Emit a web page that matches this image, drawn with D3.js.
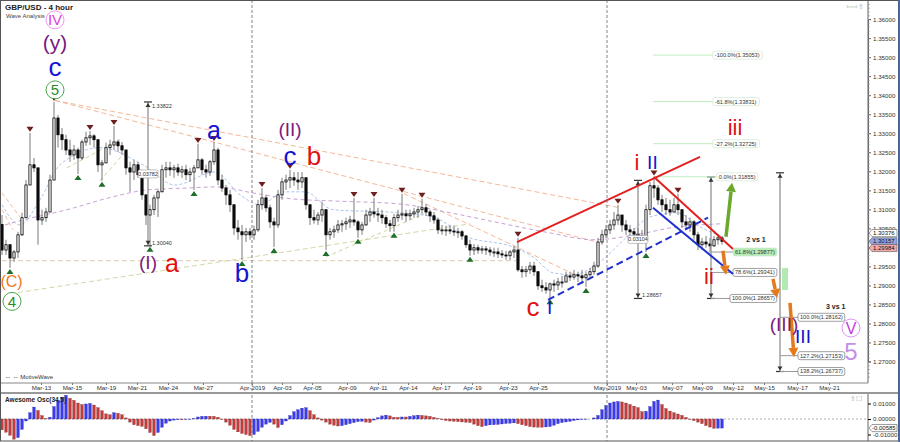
<!DOCTYPE html>
<html><head><meta charset="utf-8">
<script src="https://cdn.jsdelivr.net/npm/d3@7"></script>
<style>body{margin:0;background:#fff}svg{display:block;font-family:"Liberation Sans",Arial,sans-serif}</style>
</head><body><svg id="c" width="900" height="442"></svg>
<script>
// ---------- DATA ----------
const firstOpen = 1.3060;
const highs = [
1.3085,1.3020,1.3007,1.2993,1.3041,1.3091,1.3177,1.3301,1.3235,1.3209,
1.3099,1.3104,1.3191,1.3382,1.3348,1.3314,1.3296,1.3283,1.3269,1.3262,
1.3283,1.3304,1.3306,1.3298,1.3283,1.3230,1.3275,1.3283,1.3319,1.3283,
1.3277,1.3256,1.3225,1.3230,1.3225,1.3204,1.3138,1.3112,1.3138,1.3151,
1.3217,1.3225,1.3225,1.3217,1.3220,1.3214,1.3217,1.3209,1.3217,1.3272,
1.3235,1.3217,1.3230,1.3277,1.3262,1.3191,1.3164,1.3151,1.3112,1.3072,
1.3059,1.3051,1.3051,1.3057,1.3125,1.3156,1.3138,1.3112,1.3078,1.3151,
1.3183,1.3191,1.3204,1.3198,1.3198,1.3198,1.3183,1.3112,1.3099,1.3093,
1.3120,1.3099,1.3051,1.3057,1.3072,1.3072,1.3078,1.3083,1.3130,1.3072,
1.3067,1.3099,1.3104,1.3130,1.3104,1.3099,1.3085,1.3072,1.3088,1.3099,
1.3141,1.3099,1.3099,1.3104,1.3109,1.3128,1.3114,1.3099,1.3093,1.3078,
1.3059,1.3057,1.3059,1.3057,1.3051,1.3046,1.3033,1.3020,1.3009,1.3007,
1.3004,1.3004,1.3001,1.2999,1.2999,1.2993,1.2991,1.2993,1.3004,1.3025,
1.2951,1.2951,1.2962,1.2962,1.2936,1.2915,1.2909,1.2907,1.2915,1.2920,
1.2925,1.2936,1.2936,1.2941,1.2936,1.2941,1.2936,1.2946,1.2962,1.3025,
1.3046,1.3059,1.3072,1.3093,1.3112,1.3085,1.3072,1.3059,1.3051,1.3051,
1.3046,1.3112,1.3172,1.3186,1.3164,1.3138,1.3130,1.3125,1.3130,1.3141,
1.3099,1.3085,1.3078,1.3072,1.3041,1.3025,1.3030,1.3025,1.3030,1.3035,1.3030];
const lows = [
1.2980,1.2980,1.2946,1.2962,1.2972,1.3030,1.3112,1.3191,1.3198,1.3007,
1.3059,1.3067,1.3093,1.3230,1.3262,1.3256,1.3243,1.3225,1.3230,1.3193,
1.3230,1.3267,1.3269,1.3262,1.3198,1.3175,1.3225,1.3243,1.3256,1.3251,
1.3243,1.3191,1.3146,1.3177,1.3183,1.3125,1.3059,1.3004,1.3085,1.3080,
1.3146,1.3183,1.3188,1.3183,1.3188,1.3183,1.3177,1.3172,1.3151,1.3209,
1.3191,1.3183,1.3188,1.3217,1.3164,1.3146,1.3112,1.3093,1.3033,1.3020,
1.2967,1.3014,1.3020,1.3020,1.3041,1.3099,1.3093,1.3051,1.3001,1.3051,
1.3125,1.3151,1.3156,1.3162,1.3151,1.3156,1.3099,1.3059,1.3062,1.3059,
1.3067,1.2993,1.3020,1.3025,1.3038,1.3041,1.3046,1.3051,1.3057,1.3025,
1.3033,1.3057,1.3067,1.3078,1.3067,1.3062,1.3051,1.3041,1.3041,1.3067,
1.3072,1.3067,1.3072,1.3078,1.3078,1.3088,1.3083,1.3067,1.3062,1.3035,
1.3033,1.3030,1.3035,1.3030,1.3025,1.3020,1.2999,1.2978,1.2980,1.2983,
1.2983,1.2980,1.2978,1.2975,1.2972,1.2972,1.2967,1.2967,1.2972,1.2936,
1.2920,1.2922,1.2930,1.2925,1.2888,1.2883,1.2878,1.2866,1.2883,1.2888,
1.2894,1.2909,1.2912,1.2915,1.2909,1.2904,1.2896,1.2920,1.2928,1.2946,
1.3007,1.3025,1.3035,1.3046,1.3059,1.3041,1.3033,1.3025,1.3025,1.3020,
1.3014,1.2988,1.3085,1.3130,1.3112,1.3093,1.3085,1.3083,1.3093,1.3085,
1.3051,1.3046,1.3041,1.3020,1.2993,1.2993,1.2999,1.2986,1.3001,1.3007,1.3007];
const closes = [
1.2993,1.3007,1.2972,1.2988,1.3033,1.3078,1.3164,1.3217,1.3209,1.3072,
1.3078,1.3093,1.3177,1.3340,1.3296,1.3283,1.3256,1.3243,1.3256,1.3235,
1.3277,1.3288,1.3293,1.3283,1.3217,1.3222,1.3262,1.3269,1.3277,1.3267,
1.3256,1.3209,1.3198,1.3217,1.3191,1.3138,1.3085,1.3099,1.3130,1.3146,
1.3204,1.3209,1.3204,1.3209,1.3198,1.3204,1.3191,1.3198,1.3209,1.3230,
1.3204,1.3198,1.3225,1.3256,1.3177,1.3156,1.3138,1.3112,1.3051,1.3041,
1.3033,1.3041,1.3033,1.3046,1.3112,1.3130,1.3104,1.3067,1.3059,1.3138,
1.3172,1.3177,1.3183,1.3177,1.3172,1.3183,1.3112,1.3078,1.3072,1.3085,
1.3099,1.3033,1.3041,1.3046,1.3059,1.3062,1.3067,1.3072,1.3067,1.3046,
1.3059,1.3085,1.3093,1.3088,1.3085,1.3078,1.3062,1.3057,1.3078,1.3085,
1.3088,1.3083,1.3088,1.3093,1.3099,1.3104,1.3093,1.3083,1.3072,1.3046,
1.3046,1.3046,1.3043,1.3041,1.3041,1.3030,1.3007,1.2993,1.2999,1.2993,
1.2996,1.2993,1.2988,1.2988,1.2983,1.2980,1.2978,1.2988,1.2993,1.2941,
1.2936,1.2941,1.2951,1.2936,1.2899,1.2894,1.2888,1.2904,1.2901,1.2909,
1.2909,1.2925,1.2922,1.2928,1.2925,1.2920,1.2928,1.2936,1.2951,1.3014,
1.3033,1.3046,1.3059,1.3072,1.3085,1.3059,1.3046,1.3041,1.3035,1.3030,
1.3025,1.3099,1.3162,1.3156,1.3125,1.3112,1.3099,1.3093,1.3112,1.3099,
1.3067,1.3059,1.3067,1.3033,1.3007,1.3014,1.3009,1.3004,1.3020,1.3025,1.3016];
const aoValues = [
-0.0070,-0.0085,-0.0105,-0.0130,-0.0120,-0.0067,-0.0013,0.0040,0.0077,0.0055,
0.0022,0.0002,0.0011,0.0080,0.0120,0.0140,0.0153,0.0133,0.0120,0.0103,
0.0093,0.0097,0.0100,0.0090,0.0073,0.0053,0.0033,0.0027,0.0040,0.0037,
0.0027,0.0007,-0.0020,-0.0037,-0.0043,-0.0047,-0.0063,-0.0087,-0.0107,-0.0087,
-0.0053,-0.0027,-0.0013,-0.0007,-0.0005,-0.0005,-0.0003,-0.0002,0.0002,0.0013,
0.0017,0.0018,0.0018,0.0017,0.0011,-0.0003,-0.0020,-0.0040,-0.0067,-0.0083,
-0.0093,-0.0100,-0.0107,-0.0100,-0.0080,-0.0053,-0.0033,-0.0022,-0.0033,-0.0055,
-0.0037,-0.0013,0.0022,0.0047,0.0060,0.0070,0.0073,0.0053,0.0027,0.0007,
-0.0007,-0.0020,-0.0033,-0.0040,-0.0045,-0.0043,-0.0037,-0.0030,-0.0023,-0.0017,
-0.0015,-0.0020,-0.0022,-0.0007,0.0008,0.0020,0.0025,0.0020,0.0011,0.0010,
0.0013,0.0013,0.0017,0.0021,0.0025,0.0023,0.0020,0.0017,0.0010,0.0003,
-0.0005,-0.0010,-0.0013,-0.0015,-0.0017,-0.0019,-0.0021,-0.0023,-0.0033,-0.0043,
-0.0049,-0.0043,-0.0038,-0.0037,-0.0035,-0.0032,-0.0029,-0.0027,-0.0025,-0.0030,
-0.0037,-0.0043,-0.0049,-0.0052,-0.0053,-0.0053,-0.0051,-0.0049,-0.0040,-0.0030,
-0.0023,-0.0019,-0.0015,-0.0010,-0.0006,-0.0003,-0.0002,0.0000,0.0007,0.0023,
0.0060,0.0087,0.0103,0.0110,0.0113,0.0110,0.0103,0.0093,0.0083,0.0073,
0.0047,0.0050,0.0080,0.0113,0.0122,0.0093,0.0067,0.0051,0.0040,0.0032,
0.0023,0.0010,-0.0003,-0.0010,-0.0020,-0.0030,-0.0043,-0.0052,-0.0060,-0.0059,-0.00585];
const pivotHighs = [7,13,22,28,49,53,65,72,88,93,100,105,129,154,163,169];
const pivotLows = [2,19,25,37,48,60,68,81,89,98,117,137,146,161];
const dateTickIdx = [9.75,17.5,26,33.75,41.5,50.25,62.5,70,77.5,86.25,94,101.5,109.75,117.5,126.5,134,151.25,158.5,167.5,175,182.75,190.5,198.75,206.75];
const dateLabels = ["Mar-13","Mar-15","Mar-19","Mar-21","Mar-24","Mar-27","Apr-2019","Apr-03","Apr-05","Apr-09","Apr-11","Apr-14","Apr-17","Apr-19","Apr-23","Apr-25","May-2019","May-03","May-07","May-09","May-12","May-15","May-17","May-21"];
const monthStarts = [62.5,151.25];
const priceTickLabels = ["1.27000","1.27500","1.28000","1.28500","1.29000","1.29500","1.30000","1.30500","1.31000","1.31500","1.32000","1.32500","1.33000","1.33500","1.34000","1.34500","1.35000","1.35500","1.36000"];
const aoTickLabels = ["0.01000","0.00000","-0.01000"];
// indicator lines
const maSlowIdx = [0.75,5.25,16.25,27.75,36.25,46.25,53.75,62.75,72,82.75,99.5,112,124.5,137,147.75,159.5,167,180];
const maSlowVal = [1.3059,1.3072,1.3099,1.3133,1.3151,1.3156,1.3159,1.3143,1.3128,1.3122,1.3114,1.3091,1.3064,1.3038,1.3020,1.3035,1.3051,1.3062];
const maFastIdx = [0,4.5,9.5,14.5,24.5,35.25,43.25,53.25,59.5,64.5,70.75,75.75,82.75,99.5,107.75,116.25,127.75,132.75,137.75,142.75,149.5,156.25,162,168.75,174.5,180];
const maFastVal = [1.3112,1.3059,1.3125,1.3217,1.3262,1.3217,1.3164,1.3198,1.3138,1.3112,1.3146,1.3146,1.3099,1.3091,1.3080,1.3028,1.3001,1.2975,1.2933,1.2928,1.2962,1.3028,1.3080,1.3091,1.3054,1.3028];
// ---------- SETUP ----------
const svg = d3.select("#c");
const PR = 868;
const x = d3.scaleLinear().domain([0,216.5]).range([2,868]);
const y = d3.scaleLinear().domain([1.27,1.36]).range([361.5,19.1]);
const yo = d3.scaleLinear().domain([-0.01,0.01]).range([434.5,403.5]);
const bars = closes.map((c,i)=>({i,o:i===0?firstOpen:closes[i-1],h:highs[i],l:lows[i],c}));

svg.append("rect").attr("width",900).attr("height",442).attr("fill","#fff");
const defs = svg.append("defs");
defs.append("clipPath").attr("id","cm").append("rect").attr("x",0).attr("y",0).attr("width",PR).attr("height",382);
defs.append("clipPath").attr("id","co").append("rect").attr("x",0).attr("y",394).attr("width",PR).attr("height",46);

const main = svg.append("g").attr("clip-path","url(#cm)");
const osc = svg.append("g").attr("clip-path","url(#co)");

// month separators
monthStarts.forEach(m=>{
  svg.append("line").attr("x1",x(m)).attr("x2",x(m)).attr("y1",0).attr("y2",441)
   .attr("stroke","#777").attr("stroke-width",0.9).attr("stroke-dasharray","3,2");
});

// dashed trend / indicator lines
function seg(g,i1,p1,i2,p2,col,w,dash){
  g.append("line").attr("x1",x(i1)).attr("y1",y(p1)).attr("x2",x(i2)).attr("y2",y(p2))
   .attr("stroke",col).attr("stroke-width",w).attr("stroke-dasharray",dash||null);
}
seg(main,0,1.2965,128.5,1.2965,"#dccdb0",1,"5,3");
seg(main,2,1.2878,117,1.3062,"#d2d8a8",1,"5,3");
seg(main,81,1.2975,105.5,1.3088,"#c8d8a0",1,"4,3");
seg(main,16.25,1.3209,29.5,1.3283,"#c8d8a0",1,"4,3");
seg(main,24.5,1.3175,31.25,1.3256,"#c8d8a0",1,"4,3");
seg(main,13.25,1.3386,154.5,1.3104,"#f4b899",1,"5,3");
seg(main,13.25,1.3386,148.75,1.3014,"#f4b899",1,"5,3");
seg(main,100.5,1.3141,144.5,1.2922,"#f4b899",1,"5,3");
seg(main,0,1.3143,4.5,1.3080,"#f4b899",1,"4,3");
seg(main,0,1.3099,2.75,1.3046,"#f4b899",1,"4,3");
const lineGen = (xs,vs)=>d3.line().curve(d3.curveMonotoneX).x((d,k)=>x(xs[k])).y((d,k)=>y(vs[k]))(vs);
main.append("path").attr("d",lineGen(maSlowIdx,maSlowVal)).attr("fill","none").attr("stroke","#c9a0d8").attr("stroke-width",1).attr("stroke-dasharray","4,3");
main.append("path").attr("d",lineGen(maFastIdx,maFastVal)).attr("fill","none").attr("stroke","#9fbde8").attr("stroke-width",0.9).attr("stroke-dasharray","3,2");

// candles
const cg = main.append("g");
cg.selectAll("line.w").data(bars).join("line").attr("class","w")
  .attr("x1",d=>x(d.i)).attr("x2",d=>x(d.i)).attr("y1",d=>y(d.h)).attr("y2",d=>y(d.l))
  .attr("stroke","#7a7a7a").attr("stroke-width",1);
cg.selectAll("rect").data(bars).join("rect")
  .attr("x",d=>x(d.i)-1.1).attr("width",2.2)
  .attr("y",d=>y(Math.max(d.o,d.c))).attr("height",d=>Math.max(1,Math.abs(y(d.o)-y(d.c))))
  .attr("fill",d=>d.c>=d.o?"#fff":"#111").attr("stroke","#000").attr("stroke-width",0.8);

// pivot markers
main.selectAll("path.ph").data(pivotHighs).join("path").attr("class","ph")
  .attr("d",i=>{const cx=x(i),cy=y(highs[i])-1;return `M${cx-3.5},${cy-5}L${cx+3.5},${cy-5}L${cx},${cy}Z`;})
  .attr("fill","#6e1f1f");
main.selectAll("path.pl").data(pivotLows).join("path").attr("class","pl")
  .attr("d",i=>{const cx=x(i),cy=y(lows[i])+1;return `M${cx-3.5},${cy+5}L${cx+3.5},${cy+5}L${cx},${cy}Z`;})
  .attr("fill","#1f6e2a");

// measurement lines
function measure(i,pTop,pBot,opts){
  const g=main.append("g"), cx=x(i), yt=y(pTop), yb=y(pBot);
  g.append("line").attr("x1",cx).attr("x2",cx).attr("y1",yt).attr("y2",yb).attr("stroke",opts.col||"#888").attr("stroke-width",1.2);
  [[yt,1],[yb,-1]].forEach(([yy,s])=>{
    g.append("line").attr("x1",cx-4).attr("x2",cx+4).attr("y1",yy).attr("y2",yy).attr("stroke","#333").attr("stroke-width",1.2);
    g.append("path").attr("d",`M${cx-2.5},${yy+s*5}L${cx+2.5},${yy+s*5}L${cx},${yy+s*1}Z`).attr("fill","#333");
  });
  if(opts.topLbl) g.append("text").attr("x",cx+4).attr("y",yt+4).attr("dy","0.35em").text(opts.topLbl).attr("font-size",5.5).attr("fill","#333");
  if(opts.botLbl) g.append("text").attr("x",cx+4).attr("y",yb-3).attr("dy","0.35em").text(opts.botLbl).attr("font-size",5.5).attr("fill","#333");
  if(opts.mid){
    const my=(yt+yb)/2;
    g.append("rect").attr("x",cx-10).attr("y",my-4).attr("width",20).attr("height",8).attr("rx",1.5).attr("fill","#fff").attr("stroke","#999").attr("stroke-width",0.6);
    g.append("text").attr("x",cx).attr("y",my).attr("dy","0.35em").attr("text-anchor","middle").text(opts.mid).attr("font-size",5.5).attr("fill","#333");
  }
}
measure(36.5,1.33822,1.30040,{topLbl:"1.33822",botLbl:"1.30040",mid:"0.03782"});
measure(159,1.31761,1.28657,{botLbl:"1.28657",mid:"0.03104"});
measure(177.25,1.31855,1.28657,{});
measure(194.5,1.3196,1.26737,{});

// fib levels
function fibLabel(i0,i1,p,txt,lineCol,fill){
  seg(main,i0,p,i1,p,lineCol,1);
  const lx=x(i1);
  const w=txt.length*2.85+4;
  main.append("rect").attr("x",lx).attr("y",y(p)-4).attr("width",w).attr("height",8).attr("rx",2).attr("fill",fill).attr("stroke",fill==="#fff"&&lineCol!=="#bfeebf"?"#777":"#cfe8cf").attr("stroke-width",0.7);
  main.append("text").attr("x",lx+2).attr("y",y(p)).attr("dy","0.35em").text(txt).attr("font-size",5.6).attr("fill","#333");
}
const fibUpLev = [1.35053,1.33831,1.32725,1.31855];
const fibUpTxt = ["-100.0%(1.35053)","-61.8%(1.33831)","-27.2%(1.32725)","0.0%(1.31855)"];
fibUpLev.forEach((p,k)=>fibLabel(162.75,k===3?178.7:177.7,p,fibUpTxt[k],"#bfeebf","#fff"));
const fibMidLev=[1.29877,1.29341,1.28657], fibMidTxt=["61.8%(1.29877)","78.6%(1.29341)","100.0%(1.28657)"];
fibMidLev.forEach((p,k)=>fibLabel(177.25,k===2?182:182.75,p,fibMidTxt[k],"#999",k===0?"#b5ecb5":"#fff"));
const fibLowLev=[1.28162,1.27153,1.26737], fibLowTxt=["100.0%(1.28162)","127.2%(1.27153)","138.2%(1.26737)"];
fibLowLev.forEach((p,k)=>fibLabel(194.5,199,p,fibLowTxt[k],"#999","#fff"));
main.append("text").attr("x",x(188.5)).attr("y",y(1.3013)).text("2 vs 1").attr("font-size",7).attr("font-weight","bold").attr("text-anchor","middle").attr("fill","#222");
main.append("text").attr("x",x(206)).attr("y",y(1.2837)).text("3 vs 1").attr("font-size",7).attr("font-weight","bold").attr("fill","#222");
main.append("rect").attr("x",x(195)).attr("y",y(1.2946)).attr("width",x(196.5)-x(195)).attr("height",y(1.2888)-y(1.2946)).attr("fill","#b2eab2");

// red / blue channel lines
seg(main,128.75,1.3014,174.5,1.3238,"#e32020",2);
seg(main,163,1.3185,182.75,1.2996,"#e32020",2);
seg(main,136.5,1.2862,176.5,1.3078,"#2030d0",2,"7,4");
seg(main,162.75,1.3104,182.75,1.2930,"#2030d0",2);

// arrows
function arrow(i1,p1,i2,p2,col){
  const x1=x(i1),y1=y(p1),x2=x(i2),y2=y(p2);
  const a=Math.atan2(y2-y1,x2-x1), L=9, W2=5;
  const bx=x2-L*Math.cos(a), by=y2-L*Math.sin(a);
  main.append("line").attr("x1",x1).attr("y1",y1).attr("x2",bx).attr("y2",by).attr("stroke",col).attr("stroke-width",3.5);
  main.append("path").attr("d",`M${x2},${y2}L${bx+W2*Math.sin(a)},${by-W2*Math.cos(a)}L${bx-W2*Math.sin(a)},${by+W2*Math.cos(a)}Z`).attr("fill",col);
}
arrow(181,1.3028,182.5,1.3170,"#6aa82e");
arrow(180.25,1.2991,181,1.2928,"#e37a1c");
arrow(192.75,1.2917,193.75,1.2867,"#e37a1c");
arrow(197,1.2854,198,1.2712,"#e37a1c");

// wave labels
const waveLabels = [
 {t:"IV",i:13.25,p:1.3598,c:"#e040e0",s:15,circ:"#f08af0"},
 {t:"(y)",i:13.25,p:1.3538,c:"#7a1a80",s:21},
 {t:"c",i:13.25,p:1.3474,c:"#1414d2",s:26},
 {t:"5",i:13.25,p:1.3414,c:"#2a8a2a",s:15,circ:"#3a9a3a"},
 {t:"(C)",i:2.4,p:1.2912,c:"#f07820",s:16},
 {t:"4",i:2.5,p:1.2858,c:"#2a8a2a",s:15,circ:"#3a9a3a"},
 {t:"(I)",i:36.5,p:1.2960,c:"#7a1a80",s:19},
 {t:"a",i:42.5,p:1.2960,c:"#e01010",s:25},
 {t:"a",i:53,p:1.3308,c:"#1414d2",s:25},
 {t:"b",i:60,p:1.2933,c:"#1414d2",s:26},
 {t:"(II)",i:72,p:1.3311,c:"#7a1a80",s:19},
 {t:"c",i:72,p:1.3240,c:"#1414d2",s:26},
 {t:"b",i:78,p:1.3240,c:"#e01010",s:26},
 {t:"c",i:132.75,p:1.2843,c:"#e01010",s:26},
 {t:"I",i:136.9,p:1.2843,c:"#1414d2",s:19},
 {t:"i",i:158.75,p:1.3224,c:"#e01010",s:22},
 {t:"II",i:162.6,p:1.3224,c:"#1414d2",s:19},
 {t:"iii",i:183.25,p:1.3316,c:"#e01010",s:22},
 {t:"ii",i:176.75,p:1.2925,c:"#e01010",s:22},
 {t:"(III)",i:195.5,p:1.2798,c:"#7a1a80",s:19},
 {t:"III",i:200.25,p:1.2766,c:"#1414d2",s:19},
 {t:"V",i:212.25,p:1.2788,c:"#c040e0",s:16,circ:"#d88af0"},
 {t:"5",i:212.25,p:1.2727,c:"#c48ee6",s:24}
];
waveLabels.forEach(w=>{
  if(w.circ) main.append("circle").attr("cx",x(w.i)).attr("cy",y(w.p)).attr("r",9).attr("fill","#fff").attr("stroke",w.circ).attr("stroke-width",0.9);
  main.append("text").attr("x",x(w.i)).attr("y",y(w.p)).attr("dy","0.36em").attr("text-anchor","middle")
    .attr("font-size",w.s).attr("fill",w.c).text(w.t);
});

// title
svg.append("text").attr("x",5).attr("y",10).text("GBP/USD - 4 hour").attr("font-size",8).attr("font-weight","bold").attr("fill","#222");
svg.append("text").attr("x",6).attr("y",18).text("Wave Analysis").attr("font-size",6).attr("fill","#444");
svg.append("text").attr("x",5).attr("y",379).text("\u21d4 \u21d4 MotiveWave").attr("font-size",6).attr("fill","#333");
svg.append("text").attr("x",846).attr("y",9).text("\u21e6\u21e8\u21e7").attr("font-size",7).attr("fill","#aaa");

// price axis
const pAx = svg.append("g").attr("transform",`translate(${PR},0)`)
  .call(d3.axisRight(y).tickValues(priceTickLabels.map(Number)).tickFormat((d,k)=>priceTickLabels[k]).tickSize(3).tickPadding(2));
pAx.select(".domain").attr("stroke","#666");
pAx.selectAll("text").attr("font-size",6.2).attr("fill","#333").attr("font-family","Liberation Sans, Arial");
pAx.selectAll(".tick line").attr("stroke","#666");
svg.append("line").attr("x1",PR).attr("x2",PR).attr("y1",0).attr("y2",383).attr("stroke","#666");
svg.append("g").attr("transform",`translate(${PR},0)`)
  .call(d3.axisRight(y).tickValues(d3.range(1.266,1.3645,0.001)).tickFormat("").tickSize(1.5))
  .call(g=>{g.select(".domain").remove();g.selectAll("line").attr("stroke","#888");});

// price tags
const tagVals=[1.30376,1.30157,1.29984], tagFill=["#fff","#95a6e6","#f2aaaa"];
tagVals.forEach((v,k)=>{
  const ty=y(v);
  svg.append("path").attr("d",`M${PR+1},${ty}L${PR+4},${ty-3.6}L${PR+29},${ty-3.6}L${PR+29},${ty+3.6}L${PR+4},${ty+3.6}Z`)
    .attr("fill",tagFill[k]).attr("stroke","#555").attr("stroke-width",0.6);
  svg.append("text").attr("x",PR+5).attr("y",ty).attr("dy","0.35em").text(v.toFixed(5)).attr("font-size",6).attr("fill","#111");
});

// time axis
svg.append("rect").attr("x",0).attr("y",383).attr("width",900).attr("height",10).attr("fill","#fff");
const tAx = svg.append("g").attr("transform","translate(0,383)")
  .call(d3.axisBottom(x).tickValues(dateTickIdx).tickFormat((d,k)=>dateLabels[k]).tickSize(2).tickPadding(1));
tAx.select(".domain").attr("d","M0,0H868").attr("stroke","#888");
tAx.selectAll("text").attr("font-size",6.2).attr("fill","#333").attr("font-family","Liberation Sans, Arial");
tAx.selectAll(".tick line").attr("stroke","#777");
svg.append("line").attr("x1",0).attr("x2",900).attr("y1",393).attr("y2",393).attr("stroke","#999").attr("stroke-width",2);
monthStarts.forEach(m=>{
  svg.append("line").attr("x1",x(m)).attr("x2",x(m)).attr("y1",383).attr("y2",392).attr("stroke","#777").attr("stroke-width",0.9).attr("stroke-dasharray","3,2");
});

// oscillator
osc.append("line").attr("x1",0).attr("x2",PR).attr("y1",yo(0)).attr("y2",yo(0)).attr("stroke","#999").attr("stroke-width",0.8).attr("stroke-dasharray","2,2");
osc.selectAll("rect").data(aoValues).join("rect")
  .attr("x",(d,i)=>x(i)-1.3).attr("width",2.6)
  .attr("y",d=>Math.min(yo(d),yo(0))).attr("height",d=>Math.abs(yo(d)-yo(0)))
  .attr("fill",(d,i)=>i>0&&d>aoValues[i-1]?"#3a3af2":"#c23c3c")
  .attr("stroke",(d,i)=>i>0&&d>aoValues[i-1]?"#2020a0":"#7a2020").attr("stroke-width",0.3);
svg.append("text").attr("x",5).attr("y",402).text("Awesome Osc(34,5)").attr("font-size",6.5).attr("font-weight","bold").attr("fill","#222");
const oAx = svg.append("g").attr("transform",`translate(${PR},0)`)
  .call(d3.axisRight(yo).tickValues(aoTickLabels.map(Number)).tickFormat((d,k)=>aoTickLabels[k]).tickSize(3).tickPadding(2));
oAx.select(".domain").attr("d","M0,394V441").attr("stroke","#666");
oAx.selectAll("text").attr("font-size",6.2).attr("fill","#333").attr("font-family","Liberation Sans, Arial");
const lastAo = aoValues[aoValues.length-1];
svg.append("path").attr("d",`M${PR+1},${yo(lastAo)}L${PR+4},${yo(lastAo)-3.6}L${PR+29},${yo(lastAo)-3.6}L${PR+29},${yo(lastAo)+3.6}L${PR+4},${yo(lastAo)+3.6}Z`)
  .attr("fill","#fff").attr("stroke","#555").attr("stroke-width",0.6);
svg.append("text").attr("x",PR+4).attr("y",yo(lastAo)).attr("dy","0.35em").text(lastAo.toFixed(5)).attr("font-size",6).attr("fill","#111");
svg.append("text").attr("x",850).attr("y",401).text("\u21e7\u2610").attr("font-size",7).attr("fill","#aaa");

// borders
svg.append("rect").attr("x",0.5).attr("y",0.5).attr("width",898).attr("height",440.5).attr("fill","none").attr("stroke","#555");
svg.append("line").attr("x1",899.2).attr("x2",899.2).attr("y1",0).attr("y2",442).attr("stroke","#3f6db5").attr("stroke-width",1.6);
</script></body></html>
